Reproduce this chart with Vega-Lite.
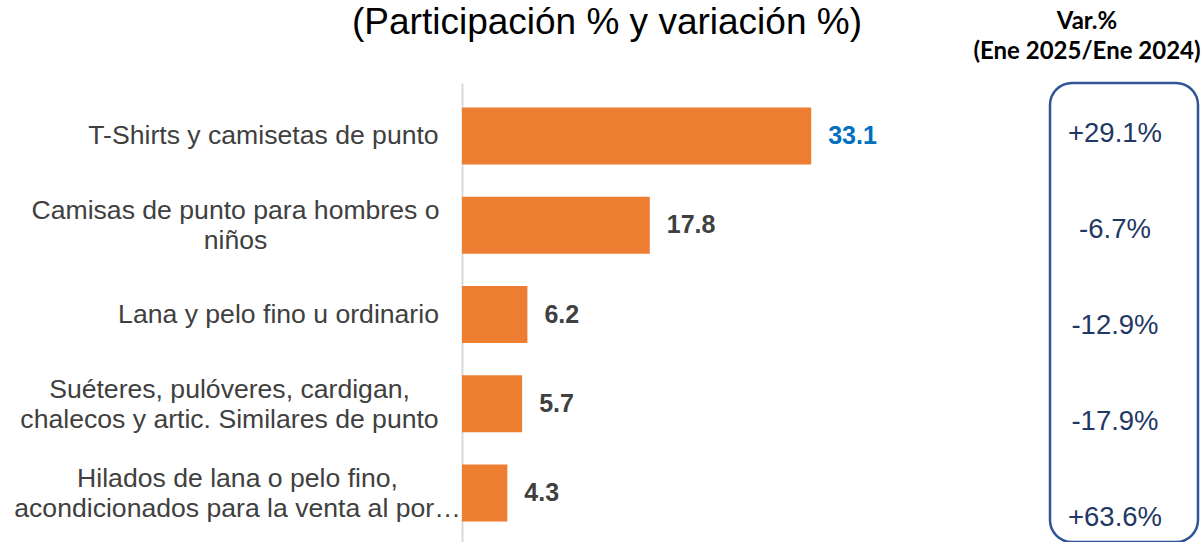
{
  "$schema": "https://vega.github.io/schema/vega-lite/v6.json",
  "padding": {"left": 13, "top": 4, "right": 0, "bottom": 0},
  "background": "white",
  "config": {"view": {"stroke": null}, "font": "Liberation Sans"},
  "datasets": {
    "main": [
      {"cat": "T-Shirts y camisetas de punto", "share": 33.1, "var": "+29.1%", "order": 1},
      {"cat": "Camisas de punto para hombres o|niños", "share": 17.8, "var": "-6.7%", "order": 2},
      {"cat": "Lana y pelo fino u ordinario", "share": 6.2, "var": "-12.9%", "order": 3},
      {"cat": "Suéteres, pulóveres, cardigan,|chalecos y artic. Similares de punto", "share": 5.7, "var": "-17.9%", "order": 4},
      {"cat": "Hilados de lana o pelo fino,|acondicionados para la venta al por…", "share": 4.3, "var": "+63.6%", "order": 5}
    ]
  },
  "spacing": 88,
  "hconcat": [
    {
      "width": 422,
      "height": 459,
      "title": {"text": "(Participación % y variación %)", "fontSize": 37, "font": "Liberation Sans", "fontWeight": "normal", "color": "#000000", "anchor": "middle", "dx": -66, "offset": 41},
      "data": {"name": "main"},
      "encoding": {
        "y": {"field": "cat", "type": "nominal", "sort": {"field": "order"},
          "scale": {"paddingInner": 0.3613, "paddingOuter": 0.2515, "align": 0.546},
          "axis": {"title": null, "ticks": false, "domainColor": "#d9d9d9", "domainWidth": 2, "labelFontSize": 26.6, "labelFont": "Liberation Sans", "labelColor": "#404040", "labelAlign": "center", "labelLimit": 700, "labelLineHeight": 30, "labelExpr": "split(datum.value, '|')",
            "labelOffset": {"condition": {"test": "indexof(datum.value, '|') >= 0", "value": -14}, "value": 0},
            "labelPadding": {"condition": [
              {"test": "indexof(datum.value, 'T-Shirts') === 0", "value": 199},
              {"test": "indexof(datum.value, 'Camisas') === 0", "value": 227},
              {"test": "indexof(datum.value, 'Lana') === 0", "value": 184},
              {"test": "indexof(datum.value, 'Su') === 0", "value": 233}
            ], "value": 225}}},
        "x": {"field": "share", "type": "quantitative", "scale": {"domain": [0, 40]}, "axis": null}
      },
      "layer": [
        {"mark": {"type": "bar", "color": "#ED7D31"}},
        {"mark": {"type": "text", "align": "left", "baseline": "middle", "dx": 17, "fontSize": 25, "fontWeight": "bold", "font": "Liberation Sans"},
          "encoding": {
            "text": {"field": "share", "type": "quantitative", "format": ".1f"},
            "color": {"condition": {"test": "datum.order === 1", "value": "#0070C0"}, "value": "#404040"}
          }}
      ]
    },
    {
      "width": 148,
      "height": 459,
      "view": {"stroke": "#2F5597", "strokeWidth": 2.5, "cornerRadius": 22},
      "title": {"text": ["Var.%", "(Ene 2025/Ene 2024)"], "fontSize": 24, "font": "Lato", "fontWeight": "bold", "color": "#000000", "anchor": "middle", "dx": -37, "lineHeight": 30, "offset": 19.5},
      "data": {"name": "main"},
      "mark": {"type": "text", "fontSize": 27.5, "font": "Liberation Sans", "color": "#1f3864", "dx": -9, "baseline": "middle"},
      "encoding": {
        "y": {"field": "order", "type": "ordinal", "scale": {"type": "point", "padding": 0.39, "align": 0.68}, "axis": null},
        "text": {"field": "var", "type": "nominal"}
      }
    }
  ]
}
